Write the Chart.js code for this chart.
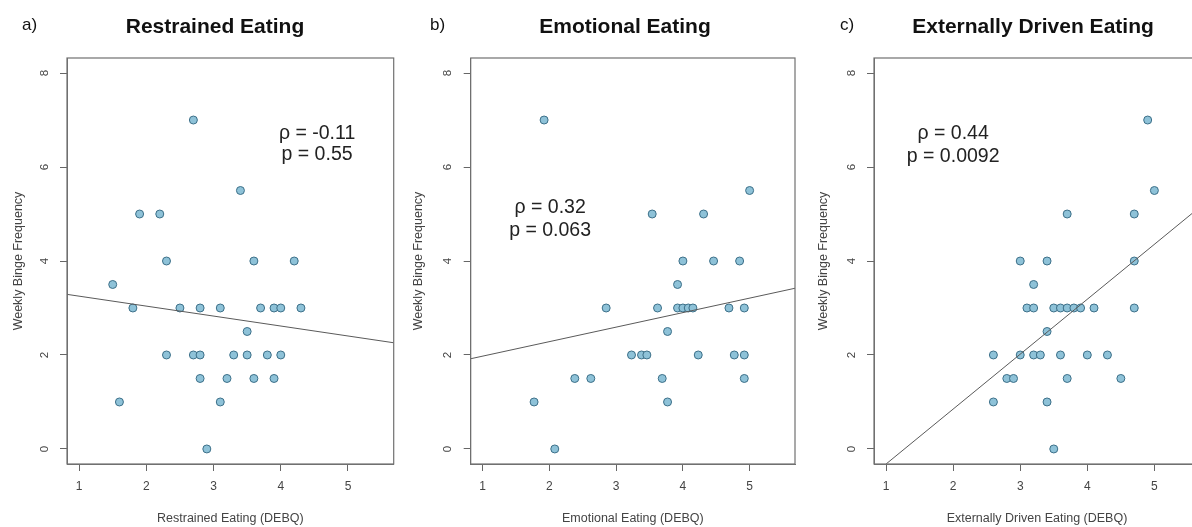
<!DOCTYPE html>
<html>
<head>
<meta charset="utf-8">
<script src="https://cdn.jsdelivr.net/npm/chart.js@4.4.1/dist/chart.umd.min.js"></script>
<style>
    html, body { margin: 0; padding: 0; background: #fff; overflow: hidden; width: 1192px; height: 527px; }
    canvas { position: absolute; top: 0; }
</style>
</head>
<body>
<canvas id="panelA" width="400" height="527" style="left:0px"></canvas>
<canvas id="panelB" width="400" height="527" style="left:400px"></canvas>
<canvas id="panelC" width="410" height="527" style="left:800px"></canvas>
<script>
// values (x = DEBQ subscale mean, y = weekly binges)
const restrainedX = [2.7, 3.4, 1.9, 2.2, 2.3, 3.6, 4.2, 1.5, 1.8, 2.5, 2.8, 3.1, 3.7, 3.9, 4.0, 4.3, 3.5, 2.3, 2.7, 2.8, 3.3, 3.5, 3.8, 4.0, 2.8, 3.2, 3.6, 3.9, 1.6, 3.1, 2.9]
const restrainedY = [7, 5.5, 5, 5, 4, 4, 4, 3.5, 3, 3, 3, 3, 3, 3, 3, 3, 2.5, 2, 2, 2, 2, 2, 2, 2, 1.5, 1.5, 1.5, 1.5, 1, 1, 0]

const emotionalX = [1.92, 5.0, 3.54, 4.31, 4.0, 4.46, 4.85, 3.92, 2.85, 3.62, 3.92, 4.0, 4.08, 4.15, 4.69, 4.92, 3.77, 3.23, 3.38, 3.46, 4.23, 4.77, 4.92, 2.38, 2.62, 3.69, 4.92, 1.77, 3.77, 2.08]
const emotionalY = [7, 5.5, 5, 5, 4, 4, 4, 3.5, 3, 3, 3, 3, 3, 3, 3, 3, 2.5, 2, 2, 2, 2, 2, 2, 1.5, 1.5, 1.5, 1.5, 1, 1, 0]

const externalX = [4.9, 5.0, 3.7, 4.7, 3.0, 3.4, 4.7, 3.2, 3.1, 3.2, 3.5, 3.6, 3.7, 3.8, 3.9, 4.1, 4.7, 3.4, 2.6, 3.0, 3.2, 3.3, 3.6, 4.0, 4.3, 2.8, 2.9, 3.7, 4.5, 2.6, 3.4, 3.5]
const externalY = [7, 5.5, 5, 5, 4, 4, 4, 3.5, 3, 3, 3, 3, 3, 3, 3, 3, 3, 2.5, 2, 2, 2, 2, 2, 2, 2, 1.5, 1.5, 1.5, 1.5, 1, 1, 0]

// fitted lines, endpoints where they meet the plot box
const restrainedFitX = [0.82, 5.68]
const restrainedFitY = [3.29, 2.26]
const emotionalFitX = [0.82, 5.68]
const emotionalFitY = [1.92, 3.42]
const externalFitX = [1.0, 5.68]
const externalFitY = [-0.32, 5.15]

const rhoLabels = ["ρ = -0.11", "ρ = 0.32", "ρ = 0.44"]
const pLabels = ["p = 0.55", "p = 0.063", "p = 0.0092"]

const xTickRange = [0.82, 5.68]
const yTickRange = [-0.32, 8.32]

const fontFamily = "'Liberation Sans', Arial, Helvetica, sans-serif"

function toPoints(xs, ys) {
    return xs.map((x, i) => ({ x: x, y: ys[i] }))
}

const panelDecor = {
    id: "panelDecor",
    afterDraw(chart, args, o) {
        const ctx = chart.ctx
        const area = chart.chartArea
        const xs = chart.scales.x
        const ys = chart.scales.y
        ctx.save()

        // R style box round the plot region
        ctx.strokeStyle = "#707070"
        ctx.lineWidth = 1.2
        ctx.strokeRect(area.left, area.top, area.right - area.left, area.bottom - area.top)

        // y tick labels run bottom-to-top like R's default
        ctx.fillStyle = "#444"
        ctx.font = "11.5px " + fontFamily
        ctx.textAlign = "center"
        ctx.textBaseline = "middle"
        ys.ticks.forEach((t) => {
            ctx.save()
            ctx.translate(area.left - 22.5, ys.getPixelForValue(t.value))
            ctx.rotate(-Math.PI / 2)
            ctx.fillText(t.label, 0, 0)
            ctx.restore()
        })

        ctx.fillStyle = "#111"
        ctx.font = "bold 21px " + fontFamily
        ctx.fillText(o.title, o.titleX, 27)
        ctx.textAlign = "left"
        ctx.font = "17px " + fontFamily
        ctx.fillText(o.letter, o.letterX, 25)

        ctx.textAlign = "center"
        ctx.fillStyle = "#222"
        ctx.font = "19.5px " + fontFamily
        ctx.fillText(o.rho, xs.getPixelForValue(o.noteX), ys.getPixelForValue(o.noteY[0]))
        ctx.fillText(o.p, xs.getPixelForValue(o.noteX), ys.getPixelForValue(o.noteY[1]))

        ctx.restore()
    },
}

function renderPanel(canvas, points, fit, config) {
    let ctx = canvas.getContext("2d")

    return new Chart(ctx, {
        type: "scatter",
        plugins: [panelDecor],
        data: {
            datasets: [
                {
                    type: "line",
                    data: fit,
                    borderColor: "#5a5a5a",
                    borderWidth: 1,
                    pointRadius: 0,
                    order: 0,
                },
                {
                    data: points,
                    backgroundColor: "#8ec2d8",
                    borderColor: "#3c6f88",
                    borderWidth: 1,
                    pointRadius: 4,
                    order: 1,
                },
            ],
        },
        options: {
            responsive: false,
            animation: false,
            layout: {
                padding: {
                    left: config.padLeft,
                    right: config.padRight,
                    top: 58,
                    bottom: 1,
                },
            },
            plugins: {
                legend: { display: false },
                tooltip: { enabled: false },
                panelDecor: config,
            },
            scales: {
                x: {
                    type: "linear",
                    min: xTickRange[0],
                    max: xTickRange[1],
                    afterFit: (scale) => {
                        scale.height = 62
                    },
                    ticks: {
                        stepSize: 1,
                        includeBounds: false,
                        padding: 8.5,
                        color: "#444",
                        font: { size: 12, family: fontFamily },
                    },
                    grid: {
                        drawOnChartArea: false,
                        tickLength: 7,
                        color: "#666",
                    },
                    border: { display: true, color: "#707070" },
                    title: {
                        display: true,
                        text: config.xTitle,
                        color: "#444",
                        padding: 0,
                        font: { size: 12.5, family: fontFamily },
                    },
                },
                y: {
                    type: "linear",
                    min: yTickRange[0],
                    max: yTickRange[1],
                    afterFit: (scale) => {
                        scale.width = config.yWidth
                    },
                    ticks: {
                        stepSize: 2,
                        includeBounds: false,
                        color: "rgba(0,0,0,0)",
                        font: { size: 11, family: fontFamily },
                    },
                    grid: {
                        drawOnChartArea: false,
                        tickLength: 7,
                        color: "#666",
                    },
                    border: { display: true, color: "#707070" },
                    title: {
                        display: true,
                        text: "Weekly Binge Frequency",
                        color: "#444",
                        font: { size: 12.5, family: fontFamily },
                    },
                },
            },
        },
    })
}

renderPanel(
    document.getElementById("panelA"),
    toPoints(restrainedX, restrainedY),
    toPoints(restrainedFitX, restrainedFitY),
    {
        title: "Restrained Eating",
        letter: "a)",
        xTitle: "Restrained Eating (DEBQ)",
        rho: rhoLabels[0],
        p: pLabels[0],
        titleX: 215,
        letterX: 22,
        noteX: 4.54,
        noteY: [6.72, 6.26],
        padLeft: 7,
        padRight: 6.3,
        yWidth: 60,
    }
)

renderPanel(
    document.getElementById("panelB"),
    toPoints(emotionalX, emotionalY),
    toPoints(emotionalFitX, emotionalFitY),
    {
        title: "Emotional Eating",
        letter: "b)",
        xTitle: "Emotional Eating (DEBQ)",
        rho: rhoLabels[1],
        p: pLabels[1],
        titleX: 225,
        letterX: 30,
        noteX: 2.01,
        noteY: [5.13, 4.64],
        padLeft: 7,
        padRight: 2.5,
        yWidth: 63.7,
    }
)

renderPanel(
    document.getElementById("panelC"),
    toPoints(externalX, externalY),
    toPoints(externalFitX, externalFitY),
    {
        title: "Externally Driven Eating",
        letter: "c)",
        xTitle: "Externally Driven Eating (DEBQ)",
        rho: rhoLabels[2],
        p: pLabels[2],
        titleX: 233,
        letterX: 40,
        noteX: 2.0,
        noteY: [6.72, 6.23],
        padLeft: 12,
        padRight: 10,
        yWidth: 62,
    }
)
</script>
</body>
</html>
